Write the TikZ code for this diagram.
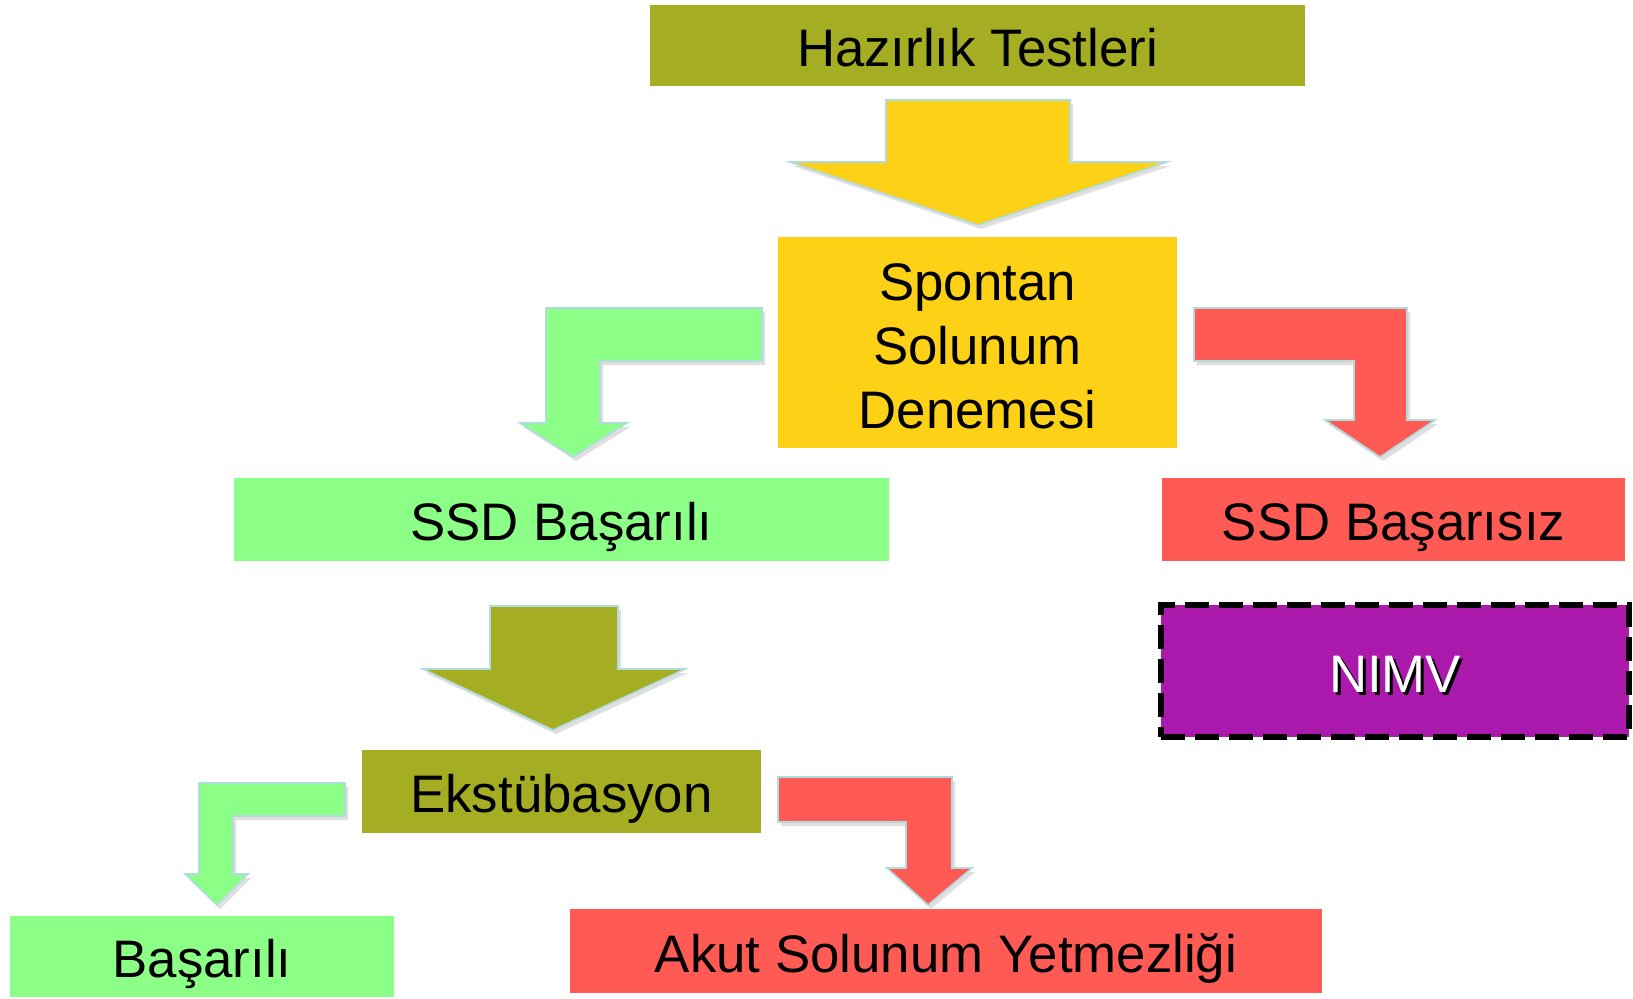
\documentclass[tikz,border=0pt]{standalone}
\usepackage{fontspec}
\setmainfont{Liberation Sans}
\usetikzlibrary{shapes,shadows}

\definecolor{olivebox}{RGB}{165,174,34}
\definecolor{yellowbox}{RGB}{253,209,22}
\definecolor{greenbox}{RGB}{140,255,135}
\definecolor{redbox}{RGB}{255,90,84}
\definecolor{purplebox}{RGB}{172,25,173}
\definecolor{arrowline}{RGB}{176,220,224}

\newcommand{\whiteshadow}[1]{\rlap{\kern1.5pt\raisebox{-1.5pt}{\color{black}#1}}#1}

\tikzset{
  box/.style={rectangle,inner sep=0pt,align=center,font=\fontsize{26.4pt}{31.8pt}\selectfont},
  oneline/.style={box,text height=21pt,text depth=0pt},
  blockarrow/.style={draw=arrowline,line width=0.8pt,line join=miter,
    drop shadow={opacity=0.25,shadow xshift=1.5pt,shadow yshift=-2pt}}
}

\begin{document}
\begin{tikzpicture}[x=0.5pt,y=-0.5pt]
\useasboundingbox (0,0) rectangle (1633,998);
\node [oneline,fill=olivebox,minimum width=327.5pt,minimum height=40.5pt] (hazirlik) at (977.5,45.5) {Hazırlık Testleri};
\node [box,fill=yellowbox,minimum width=199.5pt,minimum height=105.5pt] (ssd) at (977.5,342.5) {\rule{0pt}{22.2pt}Spontan\\Solunum\\Denemesi};
\node [oneline,fill=greenbox,minimum width=327.5pt,minimum height=41.5pt] (ssdok) at (561.5,519.5) {SSD Başarılı};
\node [oneline,fill=redbox,minimum width=231.5pt,minimum height=41.5pt] (ssdfail) at (1393.5,519.5) {SSD Başarısız};
\node [oneline,fill=purplebox,text=white,minimum width=234pt,minimum height=66pt,
  draw=black,line width=3pt,dash pattern=on 12pt off 5pt] (nimv) at (1395,671) {\whiteshadow{NIMV}};
\node [oneline,fill=olivebox,minimum width=199.5pt,minimum height=41.5pt] (ekstub) at (561.5,791.5) {Ekstübasyon};
\node [oneline,fill=greenbox,minimum width=192pt,minimum height=40.5pt] (basarili) at (202,956.5) {Başarılı};
\node [oneline,fill=redbox,minimum width=376pt,minimum height=42pt] (akut) at (946,951) {Akut Solunum Yetmezliği};

\draw [blockarrow,fill=yellowbox] (886,100) -- (1070,100) -- (1070,162) -- (1167,162) -- (978,225)
  -- (790,162) -- (886,162) -- cycle;
\draw [blockarrow,fill=greenbox] (762,308) -- (762,361) -- (600,361) -- (600,423) -- (627,423)
  -- (573,457) -- (520,423) -- (546,423) -- (546,308) -- cycle;
\draw [blockarrow,fill=redbox] (1194,308) -- (1407,308) -- (1407,420) -- (1435,420) -- (1380,457)
  -- (1325,420) -- (1354,420) -- (1354,361) -- (1194,361) -- cycle;
\draw [blockarrow,fill=olivebox] (490,606) -- (618,606) -- (618,669) -- (685,669) -- (553,730)
  -- (423,669) -- (490,669) -- cycle;
\draw [blockarrow,fill=greenbox] (345,783) -- (345,816) -- (233,816) -- (233,874) -- (248,874)
  -- (217,905) -- (185,874) -- (199,874) -- (199,783) -- cycle;
\draw [blockarrow,fill=redbox] (778,777) -- (952,777) -- (952,868) -- (972,868) -- (928,905)
  -- (887,868) -- (906,868) -- (906,822) -- (778,822) -- cycle;
\end{tikzpicture}
\end{document}
